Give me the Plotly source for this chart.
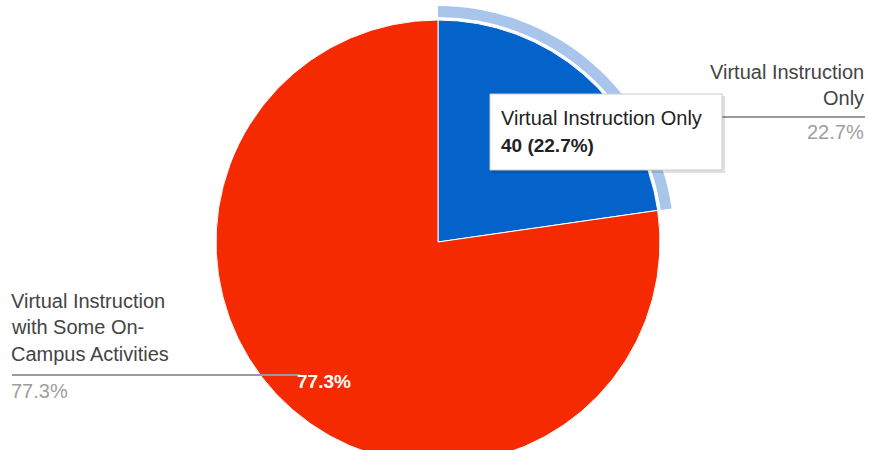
import plotly.graph_objects as go

# ---- data ----
labels = ["Virtual Instruction Only", "Virtual Instruction with Some On-Campus Activities"]
values = [40, 136]
label_lines = [["Virtual Instruction", "Only"],
               ["Virtual Instruction", "with Some On-", "Campus Activities"]]
colors = ["#0463CA", "#F52A00"]
highlight = "#A9C5EB"

W, H = 869, 480
total = sum(values)
pcts = [v / total * 100 for v in values]
pct_txt = [f"{p:.1f}%" for p in pcts]

def px(x):
    return x / W

def py(y):
    return (H - y) / H

FONT = "Arial, 'Liberation Sans', sans-serif"
FS = 20

# main pie geometry (pixels)
cx, cy, r = 438, 242, 222
ring_in, ring_out = 225, 236

fig = go.Figure()

# hover highlight ring for the first slice
fig.add_trace(go.Pie(
    labels=labels, values=values, sort=False, direction="clockwise", rotation=0,
    hole=ring_in / ring_out,
    marker=dict(colors=[highlight, "rgba(0,0,0,0)"], line=dict(width=0)),
    textinfo="none", hoverinfo="skip", showlegend=False,
    domain=dict(x=[px(cx - ring_out), px(cx + ring_out)],
                y=[py(cy + ring_out), py(cy - ring_out)]),
))

fig.add_trace(go.Pie(
    labels=labels, values=values, sort=False, direction="clockwise", rotation=0,
    marker=dict(colors=colors, line=dict(color="white", width=1)),
    textinfo="none", showlegend=False,
    domain=dict(x=[px(cx - r), px(cx + r)], y=[py(cy + r), py(cy - r)]),
))

shapes = []
annotations = []

# right label (slice 0)
shapes.append(dict(type="line", xref="paper", yref="paper",
                   x0=px(645), x1=px(865), y0=py(117), y1=py(117),
                   line=dict(color="#9a9a9a", width=2), layer="above"))
for t, yy in zip(label_lines[0], [72, 98]):
    annotations.append(dict(x=px(866), y=py(yy), xref="paper", yref="paper",
                            text=t, showarrow=False, xanchor="right", yanchor="middle",
                            font=dict(family=FONT, size=FS, color="#444444")))
annotations.append(dict(x=px(866), y=py(132), xref="paper", yref="paper",
                        text=pct_txt[0], showarrow=False, xanchor="right", yanchor="middle",
                        font=dict(family=FONT, size=FS, color="#9e9e9e")))

# left label (slice 1)
shapes.append(dict(type="line", xref="paper", yref="paper",
                   x0=px(12), x1=px(300), y0=py(375), y1=py(375),
                   line=dict(color="#9a9a9a", width=2), layer="above"))
for t, yy in zip(label_lines[1], [301, 327, 354]):
    annotations.append(dict(x=px(9), y=py(yy), xref="paper", yref="paper",
                            text=t, showarrow=False, xanchor="left", yanchor="middle",
                            font=dict(family=FONT, size=FS, color="#444444")))
annotations.append(dict(x=px(9), y=py(391), xref="paper", yref="paper",
                        text=pct_txt[1], showarrow=False, xanchor="left", yanchor="middle",
                        font=dict(family=FONT, size=FS, color="#9e9e9e")))

# inside label for big slice
annotations.append(dict(x=px(324), y=py(381), xref="paper", yref="paper",
                        text=f"<b>{pct_txt[1]}</b>", showarrow=False,
                        xanchor="center", yanchor="middle",
                        font=dict(family=FONT, size=19, color="white")))

# tooltip box
shapes.append(dict(type="rect", xref="paper", yref="paper",
                   x0=px(492), x1=px(725), y0=py(96), y1=py(173),
                   fillcolor="rgba(0,0,0,0.12)", line=dict(width=0), layer="above"))
shapes.append(dict(type="rect", xref="paper", yref="paper",
                   x0=px(490), x1=px(722), y0=py(94), y1=py(170),
                   fillcolor="white", line=dict(color="#cccccc", width=1), layer="above"))
annotations.append(dict(x=px(499), y=py(118), xref="paper", yref="paper",
                        text=labels[0], showarrow=False, xanchor="left", yanchor="middle",
                        font=dict(family=FONT, size=FS, color="#222222")))
annotations.append(dict(x=px(499), y=py(145), xref="paper", yref="paper",
                        text=f"<b>{values[0]} ({pct_txt[0]})</b>", showarrow=False,
                        xanchor="left", yanchor="middle",
                        font=dict(family=FONT, size=FS - 1, color="#222222")))

fig.update_layout(
    width=W, height=H,
    margin=dict(l=0, r=0, t=0, b=0),
    paper_bgcolor="white", plot_bgcolor="white",
    shapes=shapes, annotations=annotations,
    showlegend=False,
)

fig.write_html("out.html", config={"displayModeBar": False},
               post_script="document.body.style.margin='0';document.body.style.overflow='hidden';")
